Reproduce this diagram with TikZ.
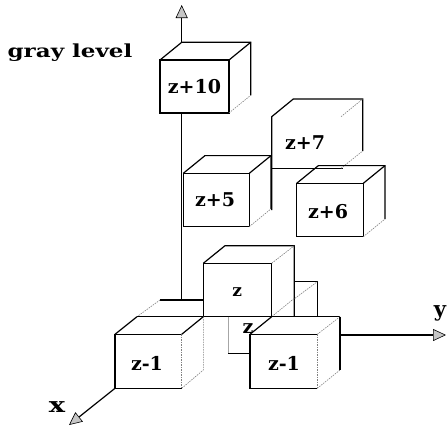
\documentclass[tikz,border=0pt]{standalone}
\usepackage{fontspec}
\usetikzlibrary{arrows.meta}
\newfontfamily\labfont{DejaVu Serif}
\tikzset{
  ln/.style={line width=1.2pt, black},
  hid/.style={line width=0.6pt, gray, dash pattern=on 1.5pt off 1pt},
  lab/.style={font=\labfont\bfseries\fontsize{19}{19}\selectfont, inner sep=0pt},
  axtip/.style={-{Triangle[fill=gray!45, length=13pt, width=12pt, line width=0.6pt]}}
}
\begin{document}
\begin{tikzpicture}[x=1pt,y=-1pt]
\useasboundingbox (0,0) rectangle (447,426);
% vertical axis
\coordinate (a0) at (181.7,300);
\coordinate (a1) at (181.7,113);
\coordinate (a2) at (181.7,42.3);
\coordinate (atop) at (181.7,5);
\draw[ln] (a0) -- (a1);
\draw[ln, axtip] (a2) -- (atop);
% z+10
\draw[ln] (160,60) rectangle ++(69,53);
\draw[ln] (160,60) -- ++(21.7,-17.7) -- ++(69,0) -- ++(0,53);
\draw[ln] (229,60) -- ++(21.7,-17.7);
\draw[hid] (229,113) -- ++(21.7,-17.7);
% z+7
\draw[ln] (271.7,210) -- (271.7,116.7) -- ++(21.6,-17.7) -- ++(69.4,0) -- ++(0,52);
\draw[ln] (271.7,168.3) -- (343,168.3);
\draw[hid] (341,116.7) -- (362.7,99);
\draw[hid] (341,168.3) -- (362.7,151);
% z+5
\draw[ln] (183.3,173.3) rectangle ++(66,53.3);
\draw[ln] (183.3,173.3) -- ++(21.7,-17.7) -- ++(66,0) -- ++(0,53.3);
\draw[ln] (249.3,173.3) -- ++(21.7,-17.7);
\draw[hid] (249.3,226.6) -- ++(21.7,-17.7);
% z+6
\draw[ln] (296.7,183.3) rectangle ++(66.6,53.4);
\draw[ln] (296.7,183.3) -- ++(21.7,-17.7) -- ++(66.6,0) -- ++(0,53.4);
\draw[ln] (363.3,183.3) -- ++(21.7,-17.7);
\draw[hid] (363.3,236.7) -- ++(21.7,-17.7);
% back-left base cube
\draw[ln] (160,300) -- (203.3,300);
\draw[hid] (160,300) -- (137,316.7);
% z (tall centre)
\draw[ln] (203.3,316.7) -- (203.3,263.3) -- (271.7,263.3) -- (271.7,316.7);
\draw[ln] (203.3,263.3) -- (225,245.7) -- (294.3,245.7) -- (294.3,316.7);
\draw[hid] (271.7,263.3) -- (294.3,245.7);
\draw[hid] (271.7,316.7) -- (294.3,298.3);
% small cube behind, right
\draw[ln] (294.3,281.7) -- (317.3,281.7) -- (317.3,316.7);
\draw[hid] (295,298.3) -- (317.3,281.7);
% long base line
\draw[ln] (137,316.7) -- (340,316.7);
% left z-1
\draw[ln] (181.7,334.3) -- (115,334.3) -- (115,388.3) -- (181.7,388.3);
\draw[hid] (181.7,334.3) -- (181.7,388.3);
\draw[ln] (115,334.3) -- (137,316.7);
\draw[ln] (181.7,334.3) -- (203.3,316.7);
\draw[hid] (203.3,316.7) -- (203.3,370) -- (181.7,388.3);
% front centre z (mostly hidden)
\draw[line width=1.5pt, gray!70] (228.3,316.7) -- (228.3,353.3);
\draw[ln] (228.3,353.3) -- (250,353.3);
% right z-1
\draw[ln] (317.3,334.3) -- (250,334.3) -- (250,388.3) -- (317.3,388.3);
\draw[hid] (317.3,334.3) -- (317.3,388.3);
\draw[ln] (250,334.3) -- (271.7,316.7);
\draw[hid] (317.3,334.3) -- (340,316.7);
\draw[ln] (340,316.7) -- (340,370);
\draw[hid] (317.3,388.3) -- (340,370);
% y axis
\coordinate (y0) at (340,335);
\coordinate (y1) at (446,335);
\draw[ln, axtip] (y0) -- (y1);
% x axis
\coordinate (x0) at (115,388.3);
\coordinate (x1) at (69,425);
\draw[ln, axtip] (x0) -- (x1);
% labels
\node[lab] (l10) at (194.5,87) {z+10};
\node[lab] (l7) at (305,143) {z+7};
\node[lab] (l5) at (215,200) {z+5};
\node[lab] (l6) at (328,212) {z+6};
\node[lab, font=\labfont\bfseries\fontsize{17}{17}\selectfont] (lz) at (237.3,292.5) {z};
\node[lab] (lz2) at (248,329) {z};
\node[lab] (lm1) at (147,363.3) {z-1};
\node[lab] (lm2) at (284,363.3) {z-1};
\node[lab, font=\labfont\bfseries\fontsize{18}{18}\selectfont] (gl) at (70,53) {\scalebox{1.28}[1]{gray level}};
\node[lab, font=\labfont\bfseries\fontsize{21}{21}\selectfont] (lx) at (57,407) {\scalebox{1.3}[1]{x}};
\node[lab, font=\labfont\bfseries\fontsize{21}{21}\selectfont] (ly) at (440,313) {y};
\end{tikzpicture}
\end{document}
